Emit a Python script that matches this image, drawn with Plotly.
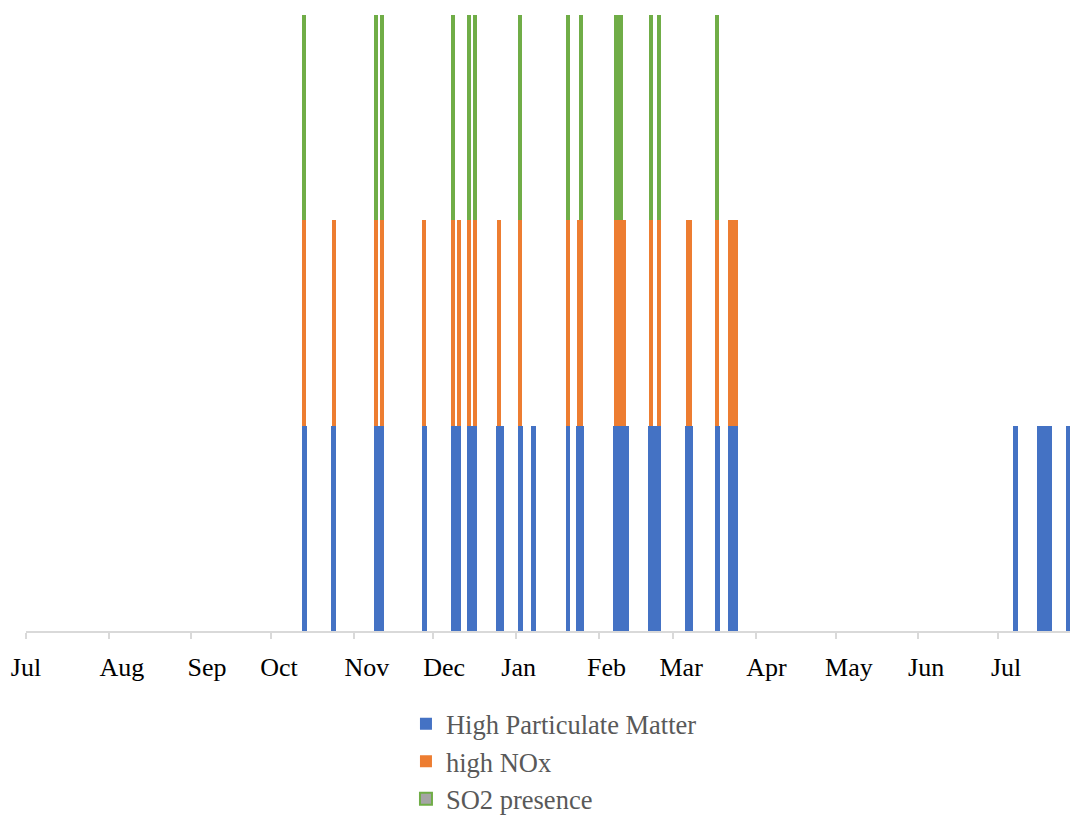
import plotly.graph_objects as go

# ---- data ----
dates = [
    "2018-10-13", "2018-10-24", "2018-11-09", "2018-11-10", "2018-11-11",
    "2018-11-27", "2018-12-08", "2018-12-09", "2018-12-10", "2018-12-14",
    "2018-12-15", "2018-12-16", "2018-12-25", "2018-12-26", "2019-01-02",
    "2019-01-07", "2019-01-20", "2019-01-24", "2019-01-25", "2019-02-07",
    "2019-02-08", "2019-02-09", "2019-02-10", "2019-02-11", "2019-02-20",
    "2019-02-21", "2019-02-22", "2019-02-23", "2019-03-06", "2019-03-07",
    "2019-03-17", "2019-03-22", "2019-03-23", "2019-03-24", "2019-07-07",
    "2019-07-16", "2019-07-17", "2019-07-18", "2019-07-19", "2019-07-20",
    "2019-07-27",
]
high_pm = [1] * 41
high_nox = [1, 1, 1, 0, 1,
            1, 1, 0, 1, 1,
            0, 1, 1, 0, 1,
            0, 1, 1, 1, 1,
            1, 1, 1, 0, 1,
            0, 0, 1, 1, 1,
            1, 1, 1, 1, 0,
            0, 0, 0, 0, 0,
            0]
so2 = [1, 0, 1, 0, 1,
       0, 1, 0, 0, 1,
       0, 1, 0, 0, 1,
       0, 1, 0, 1, 1,
       1, 1, 0, 0, 1,
       0, 0, 1, 0, 0,
       1, 0, 0, 0, 0,
       0, 0, 0, 0, 0,
       0]

month_ticks = ["2018-07-01", "2018-08-01", "2018-09-01", "2018-10-01", "2018-11-01",
               "2018-12-01", "2019-01-01", "2019-02-01", "2019-03-01", "2019-04-01",
               "2019-05-01", "2019-06-01", "2019-07-01"]
label_pos = ["2018-07-01", "2018-08-06", "2018-09-07", "2018-10-04", "2018-11-06",
             "2018-12-05", "2019-01-02", "2019-02-04", "2019-03-04", "2019-04-05",
             "2019-05-06", "2019-06-04", "2019-07-04"]
month_labels = ["Jul", "Aug", "Sep", "Oct", "Nov", "Dec", "Jan", "Feb", "Mar",
                "Apr", "May", "Jun", "Jul"]
x_range = ["2018-07-01", "2019-07-28"]

DAY = 86400000
w_pm = 1.85 * DAY
w_top = 1.5 * DAY

BLUE, ORANGE, GREEN, GRAY = "#4472C4", "#ED7D31", "#70AD47", "#A5A5A5"

fig = go.Figure()
fig.add_trace(go.Bar(x=dates, y=high_pm, name="High Particulate Matter",
                     marker=dict(color=BLUE, line=dict(width=0)),
                     width=[w_pm] * len(dates), offset=0.5 * DAY - w_pm / 2))
fig.add_trace(go.Bar(x=dates, y=high_nox, name="high NOx",
                     marker=dict(color=ORANGE, line=dict(width=0)),
                     width=[w_top] * len(dates), offset=0.5 * DAY - w_top / 2))
fig.add_trace(go.Bar(x=dates, y=so2, name="SO2 presence", showlegend=False,
                     marker=dict(color=GREEN, line=dict(width=0)),
                     width=[w_top] * len(dates), offset=0.5 * DAY - w_top / 2))
# legend entry for SO2 (grey fill, green outline as in the original legend)
fig.add_trace(go.Bar(x=[None], y=[None], name="SO2 presence",
                     marker=dict(color=GRAY, line=dict(color=GREEN, width=2))))

# invisible trace to carry the label axis
fig.add_trace(go.Scatter(x=x_range, y=[0, 0], xaxis="x2", mode="lines",
                         line=dict(width=0), showlegend=False, hoverinfo="skip"))

font_family = "Liberation Serif, Times New Roman, serif"

fig.update_layout(
    width=1072, height=816,
    margin=dict(l=26, r=2, t=15, b=185, autoexpand=False),
    paper_bgcolor="white", plot_bgcolor="white",
    barmode="stack", bargap=0,
    font=dict(family=font_family, size=26, color="#000000"),
    xaxis=dict(type="date", range=x_range, tickvals=month_ticks,
               showticklabels=False, ticks="outside", ticklen=6, tickwidth=2,
               tickcolor="#D9D9D9", showline=True, linecolor="#D9D9D9",
               linewidth=2, showgrid=False, zeroline=False, fixedrange=True,
               automargin=False),
    xaxis2=dict(type="date", range=x_range, overlaying="x", anchor="y",
                side="bottom", tickvals=label_pos, ticktext=month_labels,
                ticks="", showline=False, showgrid=False, zeroline=False,
                ticklabelstandoff=18, automargin=False,
                tickfont=dict(family=font_family, size=26, color="#000000")),
    yaxis=dict(range=[0, 3], visible=False, showgrid=False, zeroline=False,
               automargin=False),
    legend=dict(orientation="v", xref="container", yref="container",
                x=0.3787, xanchor="left", y=0.142, yanchor="top",
                traceorder="normal", itemwidth=30, tracegroupgap=0,
                font=dict(family=font_family, size=26.5, color="#595959"),
                bgcolor="rgba(0,0,0,0)"),
    showlegend=True,
)

fig.write_html("out.html",
               config={"displayModeBar": False},
               post_script="document.body.style.margin='0px';"
                           "document.body.style.overflow='hidden';")
